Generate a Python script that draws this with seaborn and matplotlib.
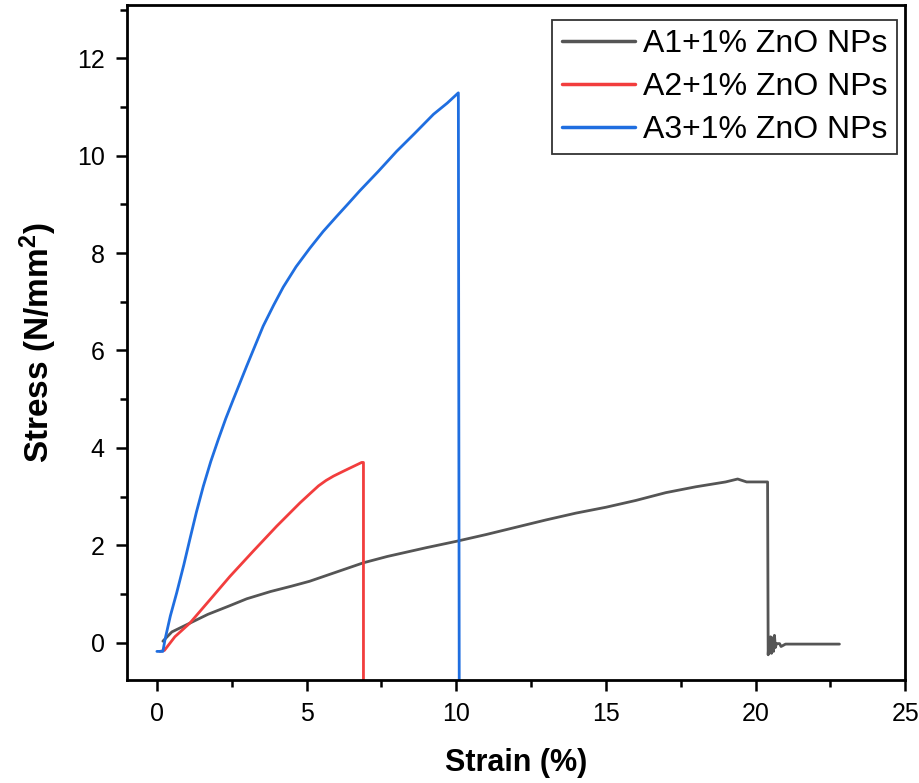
import pandas as pd
import seaborn as sns
import matplotlib.pyplot as plt
from matplotlib.ticker import MultipleLocator

# Stress-strain curves
a1_strain = [0.2, 0.5, 1.1, 1.7, 2.4, 3.0, 3.8, 4.5, 5.1, 6.0, 6.9, 7.7, 9.0, 10.0, 11.0, 12.0,
             13.0, 14.0, 15.0, 16.0, 17.0, 18.0, 19.0, 19.4, 19.7, 20.4, 20.42, 20.45, 20.48,
             20.5, 20.53, 20.56, 20.6, 20.63, 20.66, 20.7, 20.8, 20.85, 21.0, 22.0, 22.8]
a1_stress = [0.03, 0.22, 0.4, 0.58, 0.75, 0.9, 1.05, 1.16, 1.26, 1.45, 1.64, 1.77, 1.95, 2.08, 2.22, 2.37,
             2.52, 2.66, 2.78, 2.92, 3.08, 3.2, 3.3, 3.36, 3.3, 3.3, -0.25, 0.08, -0.2,
             0.12, -0.22, 0.1, -0.18, 0.15, -0.1, -0.02, -0.02, -0.08, -0.03, -0.03, -0.03]

a2_strain = [0.1, 0.25, 0.6, 1.1, 1.8, 2.44, 3.22, 4.0, 4.78, 5.15, 5.4, 5.65, 5.9, 6.23, 6.5, 6.84, 6.9, 6.9]
a2_stress = [-0.18, -0.16, 0.12, 0.4, 0.9, 1.36, 1.88, 2.39, 2.87, 3.08, 3.22, 3.33, 3.42, 3.52, 3.6, 3.7, 3.7, -1.0]

a3_strain = [0.0, 0.2, 0.27, 0.45, 0.66, 0.9, 1.1, 1.32, 1.55, 1.8, 2.05, 2.3, 2.55, 3.0, 3.55, 3.9,
             4.22, 4.65, 5.11, 5.55, 6.0, 6.4, 6.78, 7.4, 8.01, 8.6, 9.24, 9.7, 10.07, 10.1]
a3_stress = [-0.18, -0.18, 0.06, 0.55, 1.02, 1.6, 2.12, 2.68, 3.21, 3.72, 4.17, 4.6, 4.99, 5.68, 6.5, 6.93,
             7.3, 7.72, 8.1, 8.44, 8.75, 9.02, 9.28, 9.68, 10.09, 10.45, 10.85, 11.08, 11.29, -1.0]

labels = ['A1+1% ZnO NPs', 'A2+1% ZnO NPs', 'A3+1% ZnO NPs']
colors = ['#555555', '#f23d3d', '#1f6ee0']

df = pd.concat([
    pd.DataFrame({'strain': a1_strain, 'stress': a1_stress, 'sample': labels[0]}),
    pd.DataFrame({'strain': a2_strain, 'stress': a2_stress, 'sample': labels[1]}),
    pd.DataFrame({'strain': a3_strain, 'stress': a3_stress, 'sample': labels[2]}),
])

sns.set_style('ticks')
plt.rcParams['font.family'] = ['Liberation Sans', 'DejaVu Sans']
plt.rcParams['mathtext.fontset'] = 'custom'
plt.rcParams['mathtext.bf'] = 'Liberation Sans:bold'
for k in ['text.color', 'axes.labelcolor', 'xtick.color', 'ytick.color', 'axes.edgecolor']:
    plt.rcParams[k] = 'black'

fig = plt.figure(figsize=(9.2, 7.83), dpi=100)
ax = fig.add_axes([0.138, 0.132, 0.846, 0.862])

sns.lineplot(data=df, x='strain', y='stress', hue='sample', palette=colors,
             sort=False, estimator=None, linewidth=2, ax=ax)

ax.set_xlim(-1, 25)
ax.set_ylim(-0.76, 13.1)
ax.xaxis.set_major_locator(MultipleLocator(5))
ax.xaxis.set_minor_locator(MultipleLocator(2.5))
ax.yaxis.set_major_locator(MultipleLocator(2))
ax.yaxis.set_minor_locator(MultipleLocator(1))
ax.tick_params(which='major', length=8, width=1.8, labelsize=18, direction='out', pad=8)
ax.tick_params(which='minor', length=5, width=1.8, direction='out')
for s in ax.spines.values():
    s.set_linewidth(2)

ax.set_xlabel('Strain (%)', fontsize=22, fontweight='bold', labelpad=16)
ax.set_ylabel('Stress (N/mm$\\mathbf{^2}$)', fontsize=24, fontweight='bold', labelpad=13)

leg = ax.legend(loc='upper right', fontsize=23, frameon=True, fancybox=False,
                edgecolor='black', handlelength=2.3, handletextpad=0.25,
                borderpad=0.3, labelspacing=0.4, borderaxespad=0,
                bbox_to_anchor=(0.99, 0.978))
leg.get_frame().set_linewidth(1.3)
for line in leg.get_lines():
    line.set_linewidth(2.5)

fig.savefig('out.png', dpi=100)
